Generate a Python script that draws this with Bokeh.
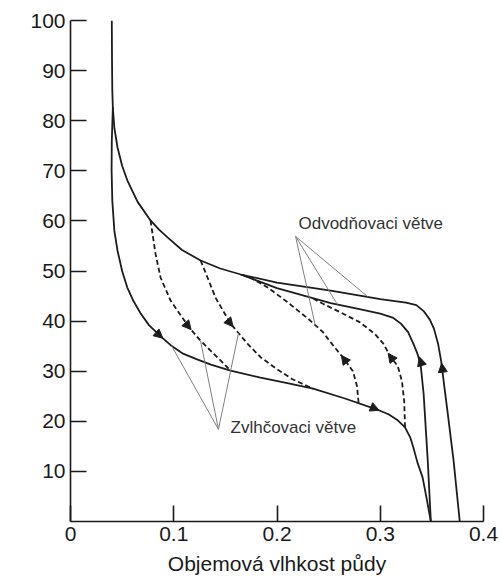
import numpy as np
from bokeh.plotting import figure
from bokeh.models import Range1d, FixedTicker, Arrow, NormalHead, Label, ColumnDataSource
from bokeh.embed import file_html
from bokeh.resources import INLINE

# ---------------- data ----------------
# main (outer) drying branch, from saturation upward
outer_x = [0.377, 0.371, 0.365, 0.362, 0.359, 0.356, 0.352, 0.348, 0.342, 0.335, 0.325, 0.300,
           0.252, 0.200, 0.165, 0.145, 0.126, 0.108, 0.094, 0.086, 0.0775, 0.065, 0.055, 0.050,
           0.0455, 0.0425, 0.0410, 0.0405, 0.0402, 0.0400]
outer_y = [0, 12.2, 22.2, 27.0, 32.0, 35.5, 38.5, 40.3, 42.0, 43.2, 43.7, 44.4,
           46.1, 47.7, 49.3, 50.5, 52.1, 54.2, 56.7, 58.2, 60.1, 63.8, 68.1, 71.0,
           74.7, 78.5, 82.6, 86.0, 92.0, 100.0]

# second (inner) drying branch
inner_x = [0.349, 0.346, 0.342, 0.339, 0.336, 0.332, 0.327, 0.320, 0.312, 0.300, 0.280, 0.252, 0.200, 0.165]
inner_y = [0, 12.2, 25.5, 31.5, 33.5, 35.5, 37.8, 39.5, 40.7, 41.5, 42.4, 43.6, 46.6, 49.3]

# main wetting branch
wet_x = [0.0410, 0.0400, 0.0398, 0.0405, 0.0425, 0.0455, 0.0500, 0.0550, 0.0610, 0.0680, 0.0760,
         0.0865, 0.0970, 0.1090, 0.1220, 0.1360, 0.1550, 0.1840, 0.2100, 0.2350, 0.2650, 0.2950,
         0.3080, 0.3170, 0.3240, 0.3290, 0.3320, 0.3360, 0.3410, 0.3450, 0.3490]
wet_y = [82.6, 76.0, 70.0, 64.0, 58.0, 54.1, 50.0, 46.7, 44.0, 41.5, 39.2,
         37.1, 35.2, 33.5, 32.4, 31.3, 30.1, 28.7, 27.6, 26.5, 24.6, 22.5,
         21.4, 20.2, 18.8, 16.8, 14.8, 11.8, 8.8, 4.5, 0]

# dashed wetting scanning branches
w1_x = [0.0775, 0.0794, 0.0823, 0.0872, 0.0969, 0.1143, 0.1250, 0.1356, 0.1460, 0.1550]
w1_y = [60.1, 57.5, 53.5, 48.7, 44.1, 38.9, 36.3, 34.1, 32.0, 30.1]
w2_x = [0.1260, 0.1327, 0.1404, 0.1550, 0.1714, 0.1840, 0.2000, 0.2150, 0.2350]
w2_y = [52.1, 48.7, 44.7, 39.5, 35.5, 32.8, 30.4, 28.4, 26.5]

# dashed drying scanning branches
d1_x = [0.2790, 0.2775, 0.2735, 0.2647, 0.2530, 0.2440, 0.2300, 0.2100, 0.1910, 0.1750, 0.1650]
d1_y = [23.7, 27.0, 30.0, 32.5, 35.5, 37.9, 40.5, 43.8, 46.7, 48.6, 49.3]
d2_x = [0.3240, 0.3232, 0.3210, 0.3170, 0.3100, 0.3030, 0.2950, 0.2800, 0.2610, 0.2450, 0.2350]
d2_y = [18.8, 24.0, 28.0, 31.0, 32.9, 35.5, 37.4, 39.8, 41.8, 43.4, 44.5]

# arrowheads: which branch, position
arrow_curve = ["wet", "wet", "w1", "w2", "d1", "d2", "inner", "outer"]
arrow_x = [0.0865, 0.2954, 0.1143, 0.1550, 0.2647, 0.3100, 0.3390, 0.3600]
arrow_y = [37.1, 22.5, 38.9, 39.5, 32.5, 32.9, 32.1, 30.8]

# annotation texts and leader lines
odv_text = "Odvodňovaci větve"
odv_pos = (0.2208, 59.4)
odv_apex = (0.218, 56.9)
odv_ends_x = [0.2370, 0.2586, 0.2877]
odv_ends_y = [39.2, 43.3, 44.9]

zvl_text = "Zvlhčovaci větve"
zvl_pos = (0.155, 18.8)
zvl_apex = (0.1433, 18.4)
zvl_ends_x = [0.0978, 0.1259, 0.1627]
zvl_ends_y = [35.1, 36.1, 37.6]

x_ticks = [0, 0.1, 0.2, 0.3, 0.4]
x_tick_labels = ["0", "0.1", "0.2", "0.3", "0.4"]
y_ticks = [10, 20, 30, 40, 50, 60, 70, 80, 90, 100]

x_label = "Objemová vlhkost půdy"
y_label = "Vlhkostní potenciál [cm]"

# ---------------- figure ----------------
FONT = "Liberation Sans"
p = figure(width=501, height=581, output_backend="svg", toolbar_location=None,
           x_range=Range1d(0, 0.4), y_range=Range1d(0, 100),
           min_border_left=70, min_border_right=18, min_border_top=20, min_border_bottom=60)
p.outline_line_color = None
p.grid.visible = False
p.background_fill_color = "white"

for ax in (p.xaxis[0], p.yaxis[0]):
    ax.axis_line_width = 1.6
    ax.axis_line_color = "#1a1a1a"
    ax.major_tick_line_width = 1.6
    ax.major_tick_line_color = "#1a1a1a"
    ax.major_tick_in = 16
    ax.major_tick_out = 0
    ax.minor_tick_line_color = None
    ax.major_label_text_font = FONT
    ax.major_label_text_font_size = "21px"
    ax.major_label_text_color = "#1a1a1a"

p.xaxis.ticker = FixedTicker(ticks=x_ticks)
p.xaxis.major_label_overrides = {t: l for t, l in zip(x_ticks, x_tick_labels)}
p.xaxis.major_label_standoff = 5
p.xaxis.axis_label = x_label
p.xaxis.axis_label_text_font = FONT
p.xaxis.axis_label_text_font_size = "21px"
p.xaxis.axis_label_text_font_style = "normal"
p.xaxis.axis_label_text_color = "#1a1a1a"
p.xaxis.axis_label_standoff = 8

p.yaxis.ticker = FixedTicker(ticks=y_ticks)
p.yaxis.major_label_standoff = 5

# ---------------- curves ----------------
curves = {"outer": (outer_x, outer_y), "inner": (inner_x, inner_y), "wet": (wet_x, wet_y),
          "w1": (w1_x, w1_y), "w2": (w2_x, w2_y), "d1": (d1_x, d1_y), "d2": (d2_x, d2_y)}

LC = "#1c1c1c"
for k in ("outer", "inner", "wet"):
    xs, ys = curves[k]
    p.line(xs, ys, line_color=LC, line_width=1.8)
for k in ("w1", "w2", "d1", "d2"):
    xs, ys = curves[k]
    p.line(xs, ys, line_color=LC, line_width=1.8, line_dash="5 3")

# ---------------- arrowheads ----------------
SX = 413 / 0.4   # px per x unit
SY = 501 / 100   # px per y unit
xs0, ys0, xs1, ys1 = [], [], [], []
for c, ax_, ay_ in zip(arrow_curve, arrow_x, arrow_y):
    cx = np.asarray(curves[c][0]); cy = np.asarray(curves[c][1])
    mx = (cx[:-1] + cx[1:]) / 2; my = (cy[:-1] + cy[1:]) / 2
    i = int(np.argmin(((mx - ax_) * SX) ** 2 + ((my - ay_) * SY) ** 2))
    ux = (cx[i + 1] - cx[i]) * SX; uy = (cy[i + 1] - cy[i]) * SY
    n = np.hypot(ux, uy); ux /= n; uy /= n
    xs0.append(ax_ - 4 * ux / SX); ys0.append(ay_ - 4 * uy / SY)
    xs1.append(ax_ + 4 * ux / SX); ys1.append(ay_ + 4 * uy / SY)
asrc = ColumnDataSource(dict(x0=xs0, y0=ys0, x1=xs1, y1=ys1))
p.add_layout(Arrow(end=NormalHead(size=9, fill_color=LC, line_color=LC, line_width=1),
                   x_start="x0", y_start="y0", x_end="x1", y_end="y1",
                   source=asrc, line_alpha=0))

# ---------------- leader lines ----------------
GC = "#808080"
p.segment(x0=[odv_apex[0]] * len(odv_ends_x), y0=[odv_apex[1]] * len(odv_ends_x),
          x1=odv_ends_x, y1=odv_ends_y, line_color=GC, line_width=1)
p.segment(x0=[zvl_apex[0]] * len(zvl_ends_x), y0=[zvl_apex[1]] * len(zvl_ends_x),
          x1=zvl_ends_x, y1=zvl_ends_y, line_color=GC, line_width=1)

# ---------------- texts ----------------
p.add_layout(Label(x=odv_pos[0], y=odv_pos[1], text=odv_text, text_font=FONT,
                   text_font_size="17px", text_color="#333333",
                   text_align="left", text_baseline="middle"))
p.add_layout(Label(x=zvl_pos[0], y=zvl_pos[1], text=zvl_text, text_font=FONT,
                   text_font_size="17px", text_color="#333333",
                   text_align="left", text_baseline="middle"))
# y axis title (placed off-centre as in the original)
p.add_layout(Label(x=-48 / SX, y=(521 - 246) / SY, text=y_label, text_font=FONT,
                   text_font_size="21px", text_color="#1a1a1a", angle=np.pi / 2,
                   text_align="center", text_baseline="middle"))

open("out.html", "w").write(file_html(p, INLINE))
